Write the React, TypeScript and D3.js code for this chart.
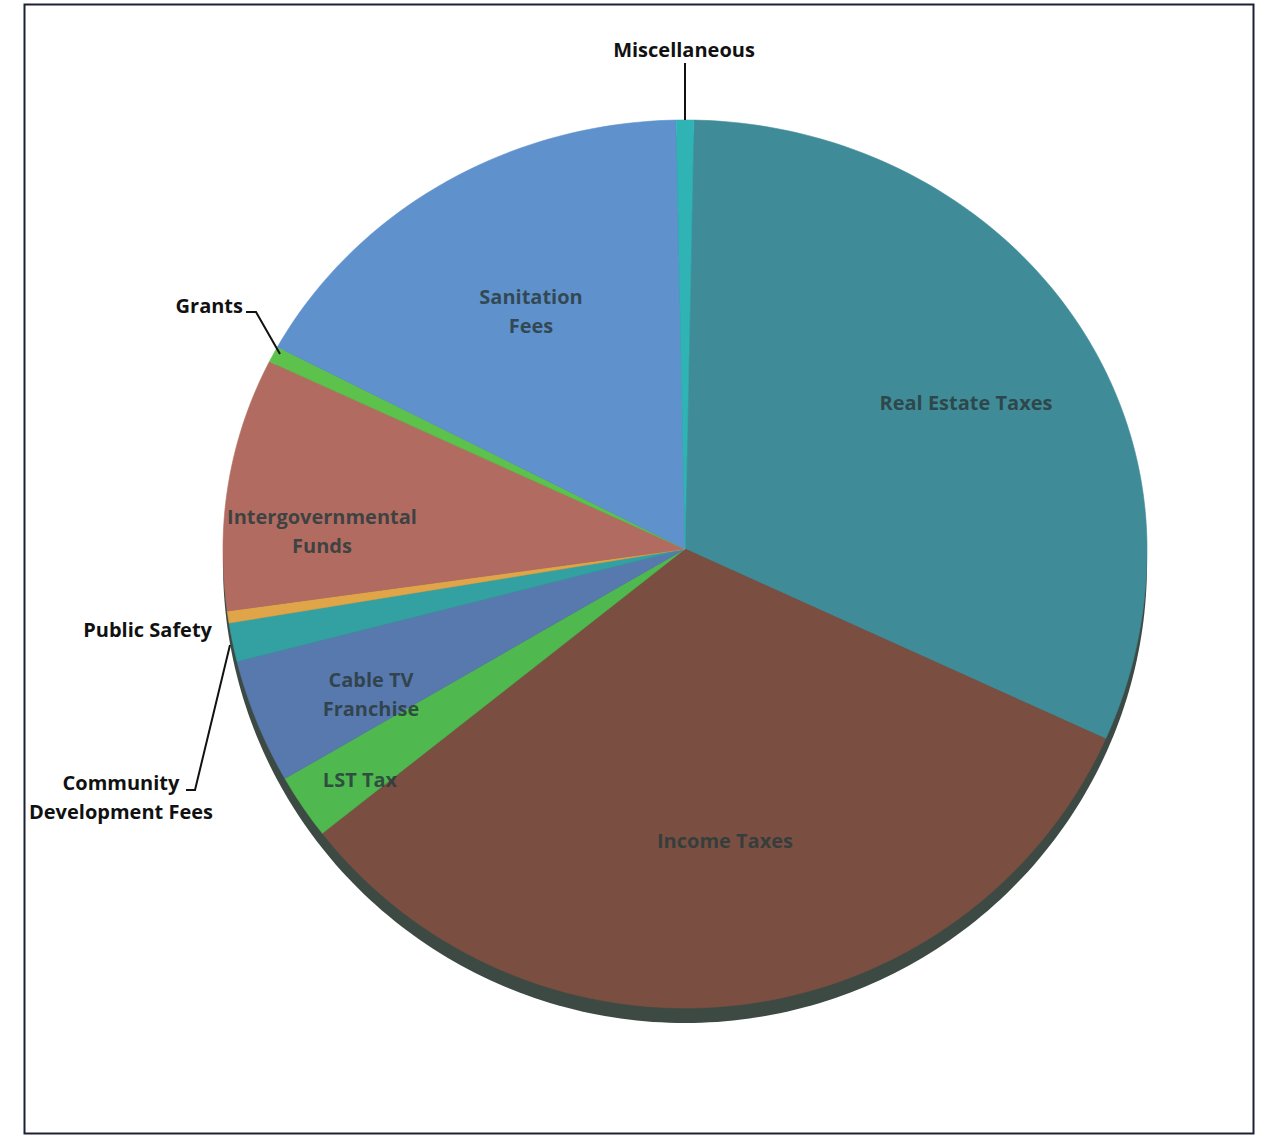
import React from "react";
import * as d3 from "d3";

// ---- data ----
const categories = [
  "Real Estate Taxes",
  "Income Taxes",
  "LST Tax",
  "Cable TV Franchise",
  "Community Development Fees",
  "Public Safety",
  "Intergovernmental Funds",
  "Grants",
  "Sanitation Fees",
  "Miscellaneous",
];
const shares = [31.5, 32.6, 2.3, 4.4, 1.36, 0.42, 9.36, 0.61, 16.9, 0.61];
const sliceColors = [
  "#3f8b98",
  "#7a4f41",
  "#4fb84f",
  "#5879ad",
  "#33a0a2",
  "#e0a548",
  "#b26b60",
  "#5cc24c",
  "#5f91cc",
  "#30b3b4",
];

// in-slice labels (lines) and outside labels
const insideLabels = [
  { cat: "Real Estate Taxes", lines: ["Real Estate Taxes"], x: 966, y: 402 },
  { cat: "Income Taxes", lines: ["Income Taxes"], x: 725, y: 840 },
  { cat: "LST Tax", lines: ["LST Tax"], x: 360, y: 779 },
  { cat: "Cable TV Franchise", lines: ["Cable TV", "Franchise"], x: 371, y: 693 },
  { cat: "Intergovernmental Funds", lines: ["Intergovernmental", "Funds"], x: 322, y: 530 },
  { cat: "Sanitation Fees", lines: ["Sanitation", "Fees"], x: 531, y: 310 },
];

const W = 1264;
const H = 1136;
const VX = 685;
const VY = 549;
const RX = 462;
const RY_TOP = 429;
const RY_BOT = 459;
const DEPTH = 15;
const START = (1.1 * Math.PI) / 180;

function pt(a: number, k = 1): [number, number] {
  const c = Math.cos(a);
  const ry = c > 0 ? RY_TOP : RY_BOT;
  return [VX + RX * k * Math.sin(a), VY - ry * k * c];
}

export default function App() {
  const pie = d3
    .pie<number>()
    .sort(null)
    .value((d) => d)
    .startAngle(START)
    .endAngle(START + 2 * Math.PI);
  const arcs = pie(shares);
  const line = d3.line();

  const slicePath = (a0: number, a1: number) => {
    const n = Math.max(4, Math.ceil(((a1 - a0) * 180) / Math.PI));
    const pts: [number, number][] = [[VX, VY]];
    for (let i = 0; i <= n; i++) pts.push(pt(a0 + ((a1 - a0) * i) / n));
    return line(pts) + "Z";
  };

  const outline: [number, number][] = d3.range(0, 361).map((deg) => pt((deg * Math.PI) / 180));
  const outlinePath = line(outline) + "Z";

  const labelFont = "'Open Sans', Lato, sans-serif";

  return (
    <svg
      width={W}
      height={H}
      style={{ position: "absolute", left: 0, top: 0, background: "#ffffff" }}
    >
      <rect x={0} y={0} width={W} height={H} fill="#ffffff" />
      <rect
        x={24.5}
        y={4.5}
        width={1229}
        height={1129}
        fill="none"
        stroke="#1c2233"
        strokeWidth={2}
      />
      {/* depth */}
      <path d={outlinePath} transform={`translate(0,${DEPTH})`} fill="#3c4a43" />
      {/* slices */}
      {arcs.map((a, i) => (
        <path
          key={categories[i]}
          d={slicePath(a.startAngle, a.endAngle)}
          fill={sliceColors[i]}
          stroke={sliceColors[i]}
          strokeWidth={0.6}
        />
      ))}
      {/* inside labels */}
      {insideLabels.map((l) => (
        <text
          key={l.cat}
          x={l.x}
          y={l.y - ((l.lines.length - 1) * 29) / 2}
          textAnchor="middle"
          dominantBaseline="central"
          fontFamily={labelFont}
          fontWeight={700}
          fontSize={20}
          fill="#2a3b3d"
          fillOpacity={0.85}
        >
          {l.lines.map((s, j) => (
            <tspan key={s} x={l.x} dy={j === 0 ? 0 : 29}>
              {s}
            </tspan>
          ))}
        </text>
      ))}
      {/* outside labels */}
      <g fontFamily={labelFont} fontWeight={700} fontSize={20} fill="#111111">
        <text x={684} y={49} textAnchor="middle" dominantBaseline="central">
          Miscellaneous
        </text>
        <text x={243} y={305} textAnchor="end" dominantBaseline="central">
          Grants
        </text>
        <text x={212} y={629} textAnchor="end" dominantBaseline="central">
          Public Safety
        </text>
        <text x={121} y={782} textAnchor="middle" dominantBaseline="central">
          Community
        </text>
        <text x={121} y={811} textAnchor="middle" dominantBaseline="central">
          Development Fees
        </text>
      </g>
      <g fill="none" stroke="#111111" strokeWidth={2}>
        <path d={line([[685, 63], [685, 120]]) ?? ""} />
        <path d={line([[246, 312], [256, 312], [280, 354]]) ?? ""} />
        <path d={line([[186, 790], [195, 790], [230, 645]]) ?? ""} />
      </g>
    </svg>
  );
}
